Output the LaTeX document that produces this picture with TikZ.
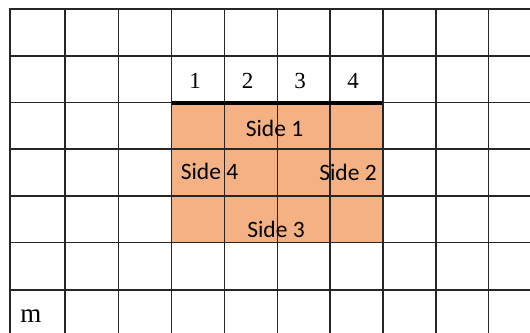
\documentclass[tikz,border=0pt]{standalone}
\usepackage{fontspec}
\setmainfont{Liberation Serif}
\newfontfamily\sidefont{Carlito}
\usetikzlibrary{positioning}
\definecolor{sidefill}{HTML}{F4B183}

\begin{document}
\begin{tikzpicture}[x=1pt, y=-1pt,
    gridline/.style={line width=1.5pt, draw=black!85, line cap=rect},
    edgeline/.style={line width=4pt, draw=black},
    numlabel/.style={font=\fontsize{23}{25}\selectfont, inner sep=0pt},
    sidelabel/.style={font=\sidefont\fontsize{23.5}{25}\selectfont, inner sep=0pt}
]
    \useasboundingbox (0,0) rectangle (530,332);
    % shaded block
    \fill[sidefill] (171.5,102.5) rectangle (382.5,242.5);
    % grid
    \foreach \x in {10,65,118.5,171.5,224.5,277.5,330,383,436,488.5}
        \draw[gridline] (\x,9) -- (\x,334);
    \foreach \y in {9,56,102.5,149,196,242.5,290}
        \draw[gridline] (10,\y) -- (532,\y);
    % top edge
    \coordinate (edgeL) at (171.5,102.5);
    \coordinate (edgeR) at (382,102.5);
    \draw[edgeline] (edgeL) -- (edgeR);

    \node[numlabel] (n1) at (195,81) {1};
    \node[numlabel] (n2) at (247.5,81) {2};
    \node[numlabel] (n3) at (300,81) {3};
    \node[numlabel] (n4) at (353,81) {4};

    \node[sidelabel] (side1) at (274.5,128.5) {Side 1};
    \node[sidelabel] (side2) at (348,172.5) {Side 2};
    \node[sidelabel] (side3) at (276,229) {Side 3};
    \node[sidelabel] (side4) at (209.5,171) {Side 4};

    \node[font=\fontsize{27}{30}\selectfont, inner sep=0pt] (unit) at (31,316.5) {m};
\end{tikzpicture}
\end{document}
